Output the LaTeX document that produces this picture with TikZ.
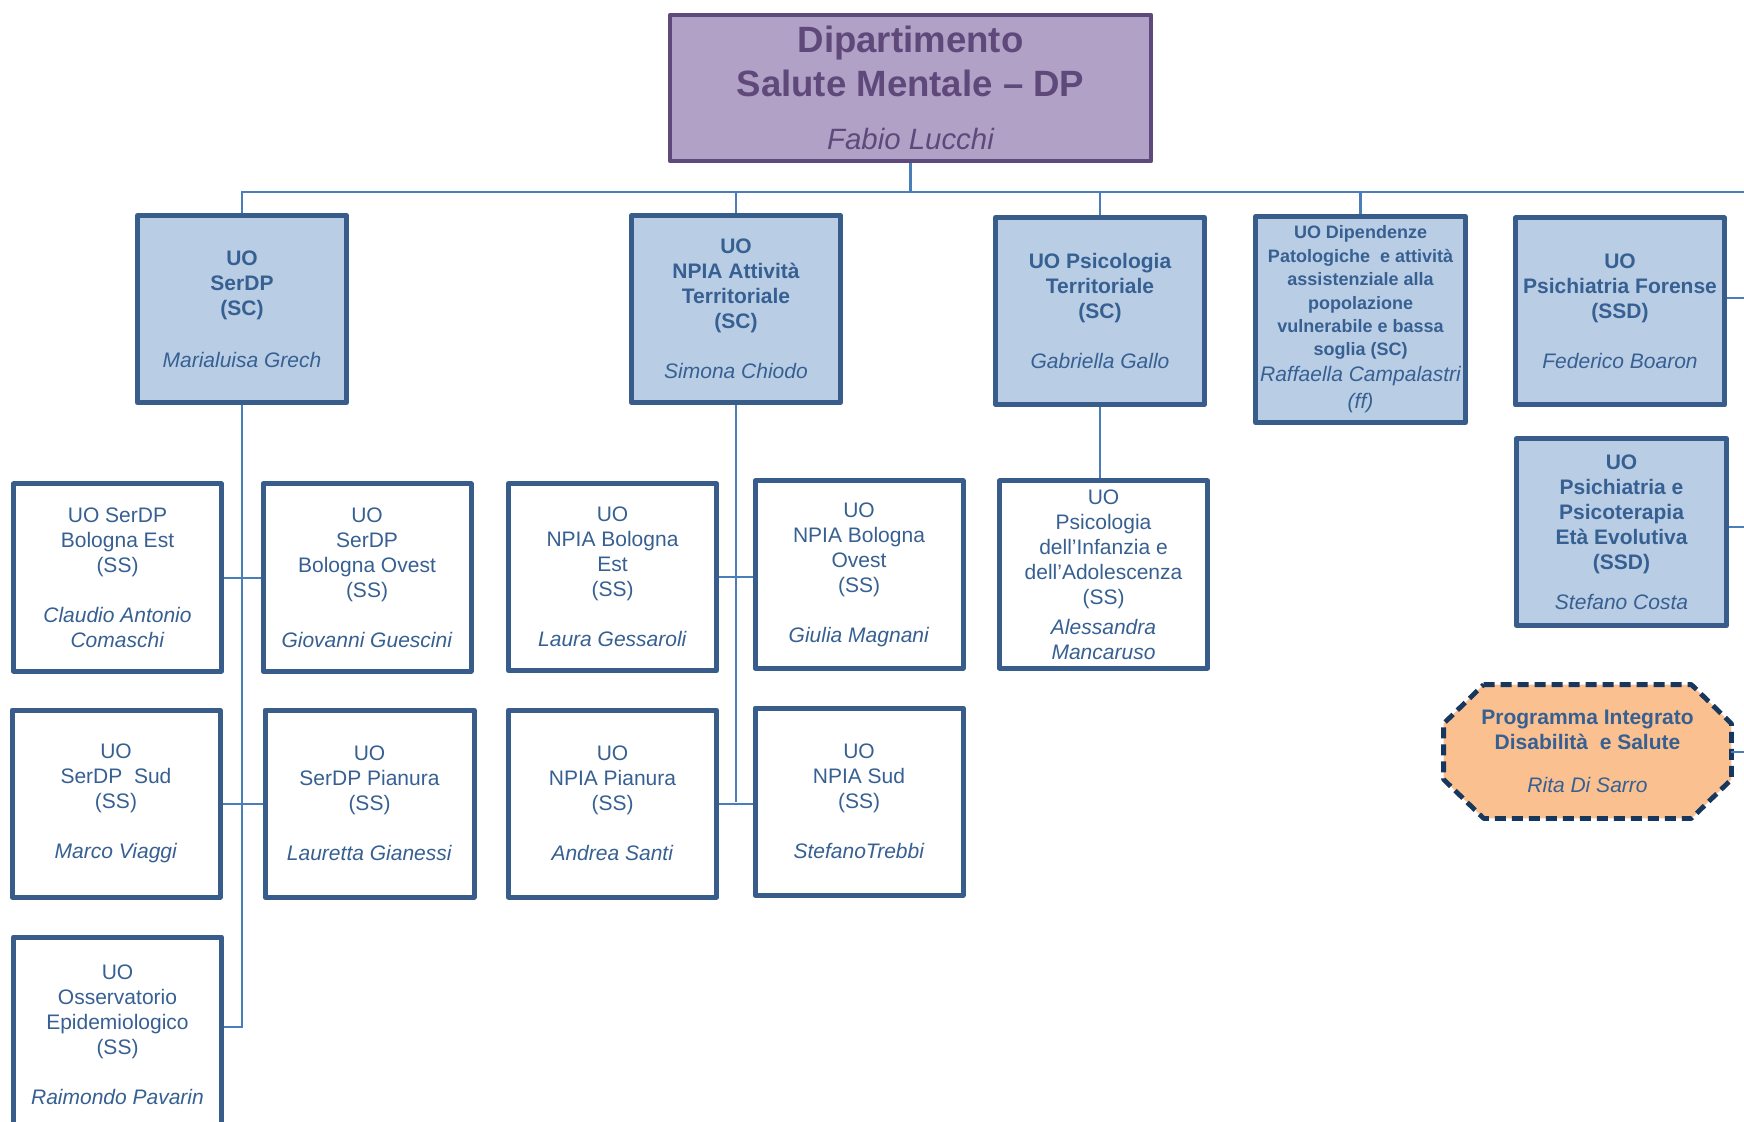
\documentclass[tikz,border=0pt]{standalone}
\usepackage{fontspec}
\setmainfont{Liberation Sans}
\pgfdeclarelayer{background}
\pgfsetlayers{background,main}
\definecolor{dipfill}{HTML}{B2A1C7}
\definecolor{dipbd}{HTML}{5F497A}
\definecolor{lonefill}{HTML}{B9CDE5}
\definecolor{lonebd}{HTML}{385D8A}
\definecolor{txtblue}{HTML}{376092}
\definecolor{connc}{HTML}{4A7EBB}
\definecolor{octfill}{HTML}{FAC090}
\definecolor{octbd}{HTML}{17375E}
\newcommand\pname[1]{{\mdseries\itshape #1}}
\begin{document}
\begin{tikzpicture}[x=0.5pt,y=-0.5pt,
  lone/.style={draw=lonebd, fill=lonefill, line width=2.5pt, line join=round, text=txtblue,
    inner sep=0pt, align=center, font=\fontsize{10.5}{12.5}\selectfont\bfseries,
    minimum width=104.5pt, minimum height=93.5pt},
  child/.style={draw=lonebd, fill=white, line width=2.5pt, line join=round, text=txtblue,
    inner sep=0pt, align=center, font=\fontsize{10.5}{12.5}\selectfont,
    minimum width=104pt, minimum height=93.5pt},
  octbox/.style={draw=octbd, fill=octfill, line width=2.4pt, line join=round, dash pattern=on 5.5pt off 3pt},
  conn/.style={draw=connc, line width=1pt},
  bus/.style={draw=connc, line width=1.3pt}]
\useasboundingbox (0,0) rectangle (1744,1122);

% top box
\node[draw=dipbd, fill=dipfill, line width=2.2pt, line join=round, text=dipbd, inner sep=0pt,
  align=center, font=\fontsize{18.3}{22}\selectfont, minimum width=240.5pt, minimum height=73pt]
  (dip) at (910.5,88) {{\bfseries Dipartimento}\\{\bfseries Salute Mentale – DP}\\[4.5pt]{\fontsize{14.7}{22}\selectfont\itshape Fabio Lucchi}};

% level 1
\node[lone] (serdp) at (242,309) {UO\\SerDP\\(SC)\\[13.5pt]\pname{Marialuisa Grech}};
\node[lone] (npia) at (736,309) {UO\\NPIA Attività\\Territoriale\\(SC)\\[12.5pt]\pname{Simona Chiodo}};
\node[lone] (psic) at (1100,311) {UO Psicologia\\Territoriale\\(SC)\\[12.5pt]\pname{Gabriella Gallo}};
\node[lone, minimum width=105pt, minimum height=103pt, font=\fontsize{9}{11.7}\selectfont\bfseries] (dipend) at (1360.5,319.5)
  {UO Dipendenze\\Patologiche\ \ e attività\\assistenziale alla\\popolazione\\vulnerabile e bassa\\soglia (SC)\\[1.3pt]{\fontsize{10.5}{11.7}\selectfont\mdseries\itshape Raffaella Campalastri}\\[1.8pt]{\fontsize{10.5}{11.7}\selectfont\mdseries\itshape (ff)}};
\node[lone] (forense) at (1620,311.5) {UO\\Psichiatria Forense\\(SSD)\\[12.5pt]\pname{Federico Boaron}};
\node[lone, minimum width=105pt] (eta) at (1621.5,532) {UO\\Psichiatria e\\Psicoterapia\\Età Evolutiva\\(SSD)\\[7.5pt]\pname{Stefano Costa}};
\node[text=txtblue, inner sep=0pt, align=center, font=\fontsize{10.5}{12.5}\selectfont\bfseries,
  minimum width=143.5pt, minimum height=66.5pt] (prog) at (1587.5,751.5)
  {Programma Integrato\\Disabilità\ \ e Salute\\[9pt]\pname{Rita Di Sarro}};
\begin{pgfonlayer}{background}
\draw[octbox] ([xshift=20pt]prog.north west) -- ([xshift=-20pt]prog.north east)
  -- ([yshift=-19.5pt]prog.north east) -- ([yshift=19.5pt]prog.south east)
  -- ([xshift=-20pt]prog.south east) -- ([xshift=20pt]prog.south west)
  -- ([yshift=19.5pt]prog.south west) -- ([yshift=-19.5pt]prog.north west) -- cycle;
\end{pgfonlayer}

% SerDP children
\node[child] (est) at (117.5,577.5) {UO SerDP\\Bologna Est\\(SS)\\[12.5pt]\textit{Claudio Antonio}\\\textit{Comaschi}};
\node[child] (ovest) at (367,577.5) {UO\\SerDP\\Bologna Ovest\\(SS)\\[12.5pt]\textit{Giovanni Guescini}};
\node[child] (sud) at (116,803.5) {UO\\SerDP\ \ Sud\\(SS)\\[12.5pt]\textit{Marco Viaggi}};
\node[child, minimum width=104.5pt] (pianura) at (369.5,803.5) {UO\\SerDP Pianura\\(SS)\\[12.5pt]\textit{Lauretta Gianessi}};
\node[child, minimum height=98pt] (oss) at (117.5,1035) {UO\\Osservatorio\\Epidemiologico\\(SS)\\[12.5pt]\textit{Raimondo Pavarin}};

% NPIA children
\node[child] (npiaest) at (612.5,577) {UO\\NPIA Bologna\\Est\\(SS)\\[12.5pt]\textit{Laura Gessaroli}};
\node[child] (npiaovest) at (859,574.5) {UO\\NPIA Bologna\\Ovest\\(SS)\\[12.5pt]\textit{Giulia Magnani}};
\node[child] (npiapian) at (612.5,803.5) {UO\\NPIA Pianura\\(SS)\\[12.5pt]\textit{Andrea Santi}};
\node[child] (npiasud) at (859,801.5) {UO\\NPIA Sud\\(SS)\\[12.5pt]\textit{StefanoTrebbi}};

% Psicologia child
\node[child] (psichild) at (1103.5,574.5) {UO\\Psicologia\\dell’Infanzia e\\dell’Adolescenza\\(SS)\\[2.5pt]\textit{Alessandra}\\\textit{Mancaruso}};

% connectors
\coordinate (busR) at (1744,192);
\coordinate (eR1) at (1744,298);
\coordinate (eR2) at (1744,527);
\coordinate (eR3) at (1744,752);
\draw[bus] (serdp.north) |- (busR);
\draw[bus] (dip.south) -- (dip.south |- busR);
\draw[conn] (npia.north) -- (npia.north |- busR);
\draw[conn] (psic.north) -- (psic.north |- busR);
\draw[bus] (dipend.north) -- (dipend.north |- busR);
\draw[conn] (forense.east |- eR1) -- (eR1);
\draw[conn] (eta.east |- eR2) -- (eR2);
\draw[conn] (prog.east |- eR3) -- (eR3);

\coordinate (ossc) at ([yshift=4pt]oss.east);
\draw[conn] (serdp.south) |- (ossc);
\draw[conn] (est.east) -- (ovest.west);
\draw[conn] (sud.east) -- (pianura.west);

\draw[conn] (npia.south) -- (npia.south |- npiasud.west);
\draw[conn] (npiaest.east) -- (npiaest.east -| npiaovest.west);
\draw[conn] (npiapian.east) -- (npiapian.east -| npiasud.west);

\draw[conn] (psic.south) -- (psic.south |- psichild.north);
\end{tikzpicture}
\end{document}
